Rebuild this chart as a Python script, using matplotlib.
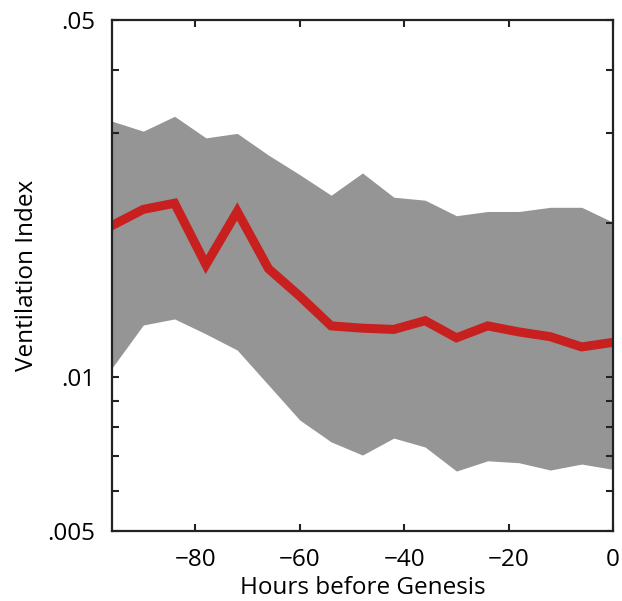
import matplotlib
matplotlib.use('Agg')
import matplotlib.pyplot as plt
from matplotlib.ticker import FixedLocator, NullFormatter

plt.rcParams['font.family'] = ['Open Sans', 'DejaVu Sans']

# hours before genesis, every 6 h
hours = [-96, -90, -84, -78, -72, -66, -60, -54, -48, -42, -36, -30, -24, -18, -12, -6, 0]
# ventilation index: median and spread
median = [0.0198, 0.0213, 0.0219, 0.0166, 0.0211, 0.0163, 0.0144, 0.0126, 0.01247, 0.0124,
          0.0129, 0.01194, 0.0126, 0.01226, 0.0120, 0.01146, 0.0117]
upper = [0.0317, 0.0303, 0.0324, 0.0294, 0.0300, 0.0272, 0.0249, 0.0227, 0.0251, 0.0225,
         0.0222, 0.0207, 0.0211, 0.0211, 0.0215, 0.0215, 0.0201]
lower = [0.01042, 0.01265, 0.0130, 0.01215, 0.0113, 0.00965, 0.00824, 0.00747, 0.00704, 0.0076,
         0.0073, 0.00655, 0.00686, 0.0068, 0.00658, 0.00676, 0.0066]

ytick_vals = [0.005, 0.01, 0.05]
ytick_labels = ['.005', '.01', '.05']
xtick_vals = [-80, -60, -40, -20, 0]
xtick_labels = ['\u221280', '\u221260', '\u221240', '\u221220', '0']

fig = plt.figure(figsize=(6.22, 6.01), dpi=100)
ax = fig.add_axes([0.180, 0.1165, 0.8055, 0.8502])

ax.fill_between(hours, lower, upper, color='#959595', linewidth=0)
ax.plot(hours, median, color='#c8201e', linewidth=6.5, solid_joinstyle='miter')

ax.set_yscale('log')
ax.set_xlim(-96, 0)
ax.set_ylim(0.005, 0.05)

ax.yaxis.set_major_locator(FixedLocator(ytick_vals))
ax.set_yticklabels(ytick_labels)
ax.yaxis.set_minor_locator(FixedLocator([0.006, 0.007, 0.008, 0.009, 0.02, 0.03, 0.04]))
ax.yaxis.set_minor_formatter(NullFormatter())
ax.set_xticks(xtick_vals)
ax.set_xticklabels(xtick_labels)

ax.tick_params(which='both', direction='in', top=True, right=True, width=1.5, color='#222222',
               labelsize=17.5)
ax.tick_params(axis='x', pad=12)
ax.tick_params(axis='y', pad=12)
ax.tick_params(which='major', length=5)
ax.tick_params(which='minor', length=5)
for s in ax.spines.values():
    s.set_linewidth(1.6)
    s.set_color('#222222')

ax.set_xlabel('Hours before Genesis', fontsize=17.5, labelpad=3)
ax.set_ylabel('Ventilation Index', fontsize=17.5, labelpad=6)

fig.savefig('out.png', dpi=100)
